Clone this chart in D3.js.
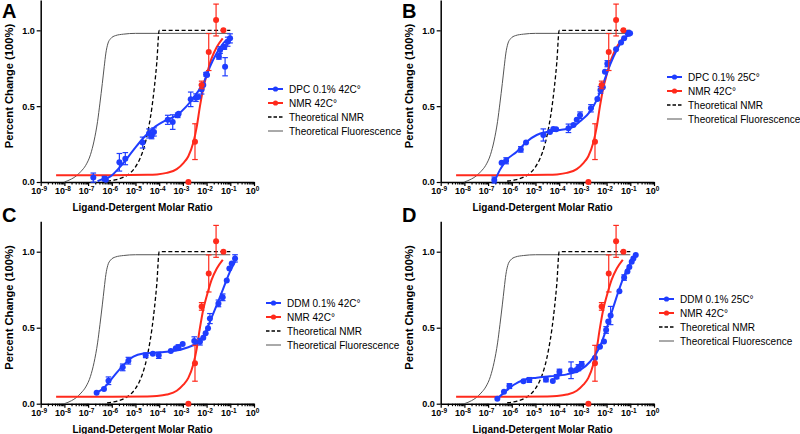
<!DOCTYPE html>
<html><head><meta charset="utf-8">
<script src="https://cdn.jsdelivr.net/npm/d3@7"></script>
<style>body{margin:0;background:#fff}svg{display:block}text{font-family:"Liberation Sans",Arial,sans-serif}</style>
</head><body><svg id="c" width="800" height="434"></svg>
<script>
// ---------- data (x values are log10 of ligand-detergent molar ratio) ----------
const xDecades = [-9,-8,-7,-6,-5,-4,-3,-2,-1,0];
const yTicks = [0, 0.5, 1.0];
const panelLetters = ["A","B","C","D"];
const blueLabels = ["DPC 0.1% 42C°","DPC 0.1% 25C°","DDM 0.1% 42C°","DDM 0.1% 25C°"];
const otherLabels = ["NMR 42C°","Theoretical NMR","Theoretical Fluorescence"];

// [log10 ratio, value, error]
const nmrPoints = [[-2.77,0.0,0],[-2.49,0.266,0.118],[-2.21,0.64,0.025],[-1.91,0.857,0.122],[-1.60,1.068,0.105],[-1.29,1.0,0]];
const nmrFit = [[-8.35,0.045],[-6.0,0.045],[-4.5,0.047],[-4.1,0.05],[-3.68,0.06],[-3.26,0.085],[-2.98,0.125],[-2.77,0.17],[-2.56,0.26],[-2.42,0.36],[-2.28,0.50],[-2.14,0.62],[-2.0,0.705],[-1.79,0.815],[-1.57,0.89],[-1.32,0.947]];
const theoNMR = [[-6.2,0.006],[-5.8,0.016],[-5.5,0.032],[-5.2,0.063],[-5.0,0.1],[-4.8,0.158],[-4.6,0.25],[-4.45,0.355],[-4.3,0.5],[-4.2,0.63],[-4.1,0.79],[-4.0,1.0],[-2.5,1.0],[-1.0,1.0]];
const theoFluor = [[-8.0,0.0],[-7.7,0.02],[-7.5,0.04],[-7.3,0.07],[-7.1,0.11],[-6.9,0.18],[-6.75,0.27],[-6.6,0.40],[-6.5,0.52],[-6.4,0.65],[-6.32,0.76],[-6.25,0.85],[-6.17,0.91],[-6.05,0.945],[-5.85,0.965],[-5.5,0.975],[-5.0,0.98],[-1.0,0.98]];

const bluePtsA = [[-6.78,0.029,0.03],[-6.31,0.022,0.015],[-6.25,0.015,0],[-5.68,0.13,0.058],[-5.43,0.154,0.04],[-4.70,0.26,0.036],[-4.43,0.32,0.03],[-4.32,0.305,0.02],[-4.22,0.33,0.027],[-3.64,0.41,0.03],[-3.43,0.395,0.048],[-3.22,0.44,0.015],[-3.18,0.45,0],[-2.67,0.545,0.048],[-2.45,0.556,0.025],[-2.35,0.56,0],[-2.21,0.61,0.03],[-2.14,0.64,0],[-2.02,0.71,0.012],[-1.98,0.705,0],[-1.48,0.826,0.016],[-1.22,0.76,0.06],[-1.43,0.87,0.022],[-1.25,0.89,0.015],[-1.11,0.925,0.03],[-1.01,0.947,0.03]];
const blueFitA = [[-6.6,0.005],[-6.5,0.013],[-6.07,0.035],[-5.65,0.10],[-5.09,0.21],[-4.67,0.29],[-4.25,0.355],[-3.68,0.41],[-3.26,0.44],[-2.84,0.50],[-2.42,0.585],[-2.14,0.65],[-1.86,0.76],[-1.57,0.85],[-1.29,0.915],[-1.01,0.958]];

const bluePtsB = [[-6.74,0.013,0.02],[-6.43,0.127,0],[-6.24,0.14,0.02],[-5.62,0.215,0.018],[-5.40,0.26,0],[-4.67,0.31,0.04],[-4.39,0.33,0],[-4.25,0.35,0],[-4.13,0.347,0],[-3.61,0.354,0.028],[-3.40,0.376,0],[-3.26,0.41,0],[-3.12,0.44,0.022],[-2.66,0.486,0.024],[-2.39,0.547,0],[-2.26,0.607,0.022],[-2.16,0.624,0],[-2.07,0.727,0],[-1.97,0.78,0.02],[-1.60,0.875,0],[-1.39,0.92,0],[-1.26,0.947,0],[-1.11,0.98,0.018],[-1.01,0.98,0]];
const blueFitB = [[-6.74,0.0],[-6.5,0.08],[-6.22,0.145],[-5.79,0.20],[-5.37,0.266],[-4.95,0.31],[-4.53,0.33],[-3.96,0.343],[-3.54,0.354],[-3.12,0.40],[-2.70,0.464],[-2.42,0.54],[-2.14,0.65],[-1.86,0.77],[-1.57,0.87],[-1.29,0.94],[-1.01,0.973]];

const bluePtsC = [[-6.64,0.072,0],[-6.33,0.096,0],[-6.14,0.151,0.025],[-5.54,0.239,0.022],[-5.30,0.283,0.022],[-4.57,0.318,0.015],[-4.27,0.329,0],[-4.02,0.318,0.02],[-3.51,0.346,0],[-3.30,0.364,0],[-3.19,0.371,0.017],[-3.01,0.393,0],[-2.52,0.412,0.028],[-2.28,0.408,0.022],[-2.14,0.434,0],[-2.04,0.463,0],[-1.94,0.496,0],[-1.86,0.56,0.033],[-1.50,0.66,0.022],[-1.32,0.70,0.022],[-1.15,0.81,0],[-1.04,0.89,0],[-0.94,0.923,0],[-0.80,0.956,0.024]];
const blueFitC = [[-6.71,0.068],[-6.36,0.10],[-5.93,0.178],[-5.51,0.254],[-5.09,0.31],[-4.67,0.33],[-3.96,0.338],[-3.40,0.346],[-2.84,0.368],[-2.42,0.397],[-2.14,0.44],[-1.86,0.54],[-1.57,0.65],[-1.29,0.76],[-1.01,0.87],[-0.80,0.934]];

const bluePtsD = [[-6.61,0.033,0],[-6.33,0.079,0],[-6.10,0.116,0.016],[-5.51,0.147,0],[-5.26,0.156,0.016],[-4.56,0.16,0.016],[-4.27,0.149,0],[-4.11,0.178,0.013],[-3.99,0.21,0.017],[-3.50,0.22,0.055],[-3.29,0.22,0],[-3.19,0.237,0.02],[-3.05,0.259,0.018],[-2.49,0.30,0],[-2.28,0.375,0],[-2.11,0.41,0],[-2.02,0.485,0.022],[-1.93,0.54,0],[-1.83,0.58,0.06],[-1.46,0.74,0],[-1.26,0.83,0.018],[-1.12,0.87,0],[-1.04,0.90,0],[-0.94,0.934,0],[-0.87,0.956,0],[-0.77,0.978,0]];
const blueFitD = [[-6.64,0.03],[-6.36,0.068],[-5.93,0.123],[-5.51,0.156],[-4.95,0.171],[-4.39,0.18],[-3.68,0.193],[-3.12,0.221],[-2.70,0.276],[-2.28,0.375],[-2.0,0.496],[-1.71,0.638],[-1.43,0.77],[-1.15,0.88],[-0.87,0.956],[-0.76,0.978]];

const bluePts = [bluePtsA, bluePtsB, bluePtsC, bluePtsD];
const blueFits = [blueFitA, blueFitB, blueFitC, blueFitD];

// ---------- layout ----------
const BLUE = "#1f3dff", RED = "#ff2a1c", GRAY = "#555";
const layout = [
  {ox:0,   top:0,     zero:182,   legX:268, legY:89,  lx:2,   ly:18},
  {ox:400, top:0,     zero:182,   legX:667, legY:77,  lx:402, ly:18},
  {ox:0,   top:221.3, zero:403.7, legX:266, legY:303, lx:2,   ly:222},
  {ox:400, top:221.3, zero:403.7, legX:659, legY:299, lx:402, ly:222}
];
const svg = d3.select("#c");
const minorVals = [];
xDecades.slice(0,-1).forEach(d => { for (let k=2;k<10;k++) minorVals.push(k*Math.pow(10,d)); });

layout.forEach((L, i) => {
  const g = svg.append("g");
  const x = d3.scaleLog().domain([1e-9, 1]).range([L.ox+40.7, L.ox+254]);
  const y = d3.scaleLinear().domain([0, 1.2]).range([L.zero, L.top]);
  const line = d3.line().x(d => x(Math.pow(10,d[0]))).y(d => y(d[1])).curve(d3.curveMonotoneX);

  // axes
  const xa = g.append("g").attr("transform", `translate(0,${L.zero})`)
    .call(d3.axisBottom(x).tickValues(xDecades.map(d=>Math.pow(10,d))).tickSize(4).tickSizeOuter(0).tickPadding(2).tickFormat(()=>""));
  xa.selectAll(".tick text").each(function(d){
    const t = d3.select(this).attr("font-size", 9).attr("font-weight","bold").attr("fill","#000").attr("dx","-2");
    t.text("10");
    t.append("tspan").attr("font-size", 6.5).attr("dy", "-0.45em").text(String(Math.round(Math.log10(d))));
  });
  g.append("g").attr("transform", `translate(0,${L.zero})`)
    .call(d3.axisBottom(x).tickValues(minorVals).tickSize(2.5).tickSizeOuter(0).tickFormat(()=>""))
    .select(".domain").remove();
  const ya = g.append("g").attr("transform", `translate(${L.ox+40.7},0)`)
    .call(d3.axisLeft(y).tickValues(yTicks).tickSize(4).tickSizeOuter(0).tickPadding(2).tickFormat(d3.format(".1f")));
  ya.selectAll("text").attr("font-size", 9).attr("font-weight","bold").attr("fill","#000");
  g.selectAll(".domain").attr("stroke","#000").attr("stroke-width",1.5);
  g.selectAll(".tick line").attr("stroke","#000").attr("stroke-width",1.2);

  // axis titles
  g.append("text").attr("x", L.ox+142.5).attr("y", L.zero+29).attr("text-anchor","middle")
    .attr("font-size",10).attr("font-weight","bold").text("Ligand-Detergent Molar Ratio");
  const yc = (L.zero + L.top)/2 - 5;
  g.append("text").attr("transform", `translate(${L.ox+13},${yc}) rotate(-90)`).attr("text-anchor","middle")
    .attr("font-size",11.2).attr("font-weight","bold").text("Percent Change (100%)");
  g.append("text").attr("x", L.lx).attr("y", L.ly).attr("font-size",20).attr("font-weight","bold").text(panelLetters[i]);

  // curves
  g.append("path").attr("d", line(theoFluor)).attr("fill","none").attr("stroke",GRAY).attr("stroke-width",1);
  g.append("path").attr("d", line(theoNMR)).attr("fill","none").attr("stroke","#000").attr("stroke-width",1.3).attr("stroke-dasharray","4,2.5");
  g.append("path").attr("d", line(nmrFit)).attr("fill","none").attr("stroke",RED).attr("stroke-width",2);
  g.append("path").attr("d", line(blueFits[i])).attr("fill","none").attr("stroke",BLUE).attr("stroke-width",2);

  // points with error bars
  function drawPts(pts, col){
    const pg = g.append("g");
    pts.filter(d=>d[2]>0).forEach(d => {
      const cx = x(Math.pow(10,d[0])), y1 = y(d[1]-d[2]), y2 = y(d[1]+d[2]);
      pg.append("line").attr("x1",cx).attr("x2",cx).attr("y1",y1).attr("y2",y2).attr("stroke",col).attr("stroke-width",1.2);
      [y1,y2].forEach(yy => pg.append("line").attr("x1",cx-2.8).attr("x2",cx+2.8).attr("y1",yy).attr("y2",yy).attr("stroke",col).attr("stroke-width",1.2));
    });
    pg.selectAll("circle").data(pts).join("circle")
      .attr("cx", d=>x(Math.pow(10,d[0]))).attr("cy", d=>y(d[1])).attr("r",3).attr("fill",col);
  }
  drawPts(bluePts[i], BLUE);
  drawPts(nmrPoints, RED);

  // legend
  const labels = [blueLabels[i]].concat(otherLabels);
  labels.forEach((lab, k) => {
    const yy = L.legY + k*14;
    const seg = g.append("line").attr("x1",L.legX).attr("x2",L.legX+15).attr("y1",yy).attr("y2",yy);
    if (k===0) { seg.attr("stroke",BLUE).attr("stroke-width",2); g.append("circle").attr("cx",L.legX+7.5).attr("cy",yy).attr("r",2.6).attr("fill",BLUE); }
    if (k===1) { seg.attr("stroke",RED).attr("stroke-width",2); g.append("circle").attr("cx",L.legX+7.5).attr("cy",yy).attr("r",2.6).attr("fill",RED); }
    if (k===2) { seg.attr("stroke","#000").attr("stroke-width",1.3).attr("stroke-dasharray","3.5,2"); }
    if (k===3) { seg.attr("stroke",GRAY).attr("stroke-width",1); }
    g.append("text").attr("x", L.legX+21).attr("y", yy).attr("dy","0.35em").attr("font-size",10).text(lab);
  });
});
</script></body></html>
